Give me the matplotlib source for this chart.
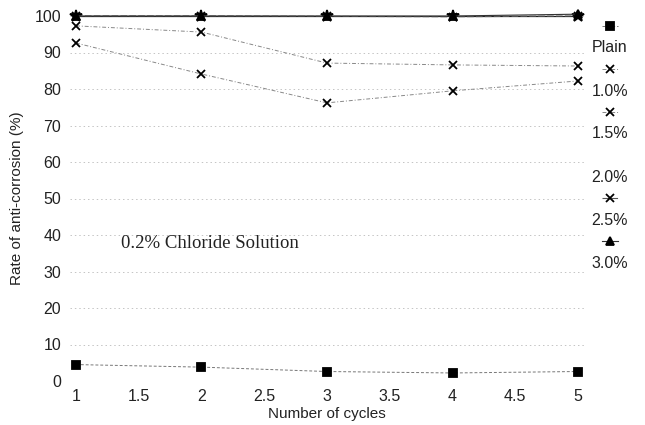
import numpy as np
import matplotlib.pyplot as plt

cycles = [1, 2, 3, 4, 5]
plain = [4.5, 3.8, 2.6, 2.2, 2.6]
c10 = [92.6, 84.1, 76.2, 79.5, 82.2]
c15 = [97.3, 95.6, 87.1, 86.6, 86.3]
c20 = [100, 100, 100, 100, 100]
c25 = [100, 100, 99.9, 99.8, 100]
c30 = [100, 100, 100, 100, 100.5]

labels = ['Plain', '1.0%', '1.5%', '2.0%', '2.5%', '3.0%']
xticks = [1, 1.5, 2, 2.5, 3, 3.5, 4, 4.5, 5]
xticklabels = ['1', '1.5', '2', '2.5', '3', '3.5', '4', '4.5', '5']
yticks = [0, 10, 20, 30, 40, 50, 60, 70, 80, 90, 100]

plt.rcParams['font.family'] = ['Liberation Sans', 'DejaVu Sans']

fig = plt.figure(figsize=(6.45, 4.25), dpi=100)
ax = fig.add_axes([69.7 / 645, 1 - 381 / 425, (584.3 - 69.7) / 645, (381 - 16) / 425])

# series: (values, marker, size, line color, linestyle, linewidth)
series = [
    (plain, 's', 6, '#777777', (0, (3, 2)), 0.7),
    (c10, 'x', 5.5, '#888888', (0, (4, 2, 1, 2)), 0.7),
    (c15, 'x', 5.5, '#888888', (0, (4, 2, 1, 2)), 0.7),
    (c20, '*', 9, '#222222', '-', 0.9),
    (c25, 'x', 5.5, '#555555', (0, (6, 2)), 0.8),
    (c30, '^', 6, '#333333', '-', 0.8),
]

for vals, mk, ms, col, ls, lw in series:
    ax.plot(cycles, vals, color=col, linestyle=ls, linewidth=lw,
            marker=mk, markersize=ms, markerfacecolor='black',
            markeredgecolor='black', markeredgewidth=1.3, clip_on=False, zorder=3)

ax.set_xlim(0.95, 5.05)
ax.set_ylim(0, 100)
ax.set_xticks(xticks)
ax.set_xticklabels(xticklabels)
ax.set_yticks(yticks)
ax.tick_params(length=0, labelsize=11.5, colors='#222222', pad=6)
for s in ax.spines.values():
    s.set_visible(False)
ax.yaxis.grid(True, linestyle=(0, (1.5, 3)), color='#c4c4c4', linewidth=0.7)
ax.set_axisbelow(True)

ax.set_xlabel('Number of cycles', fontsize=11, color='#222222', labelpad=2)
ax.set_ylabel('Rate of anti-corrosion (%)', fontsize=11, color='#222222', labelpad=8)

ax.text(1.36, 37.8, '0.2% Chloride Solution', family=['Liberation Serif', 'DejaVu Serif'],
        fontsize=13.5, va='center', ha='left', color='#222222')

# legend on the right: marker above label
leg_x = 610 / 645
for i, (lab, (vals, mk, ms, col, ls, lw)) in enumerate(zip(labels, series)):
    my = 1 - (26 + 43 * i) / 425
    ty = 1 - (48 + 43 * i) / 425
    if lab != '2.0%':
        fig.lines.append(plt.Line2D([leg_x - 0.012, leg_x + 0.012], [my, my],
                                    transform=fig.transFigure, color=col,
                                    linestyle=ls, linewidth=lw))
        fig.lines.append(plt.Line2D([leg_x], [my], transform=fig.transFigure,
                                    marker=mk, markersize=ms, color='black',
                                    markeredgewidth=1.3, linestyle=''))
    fig.text(leg_x, ty, lab, fontsize=11.5, ha='center', va='center', color='#222222')

fig.savefig('out.png', dpi=100)
